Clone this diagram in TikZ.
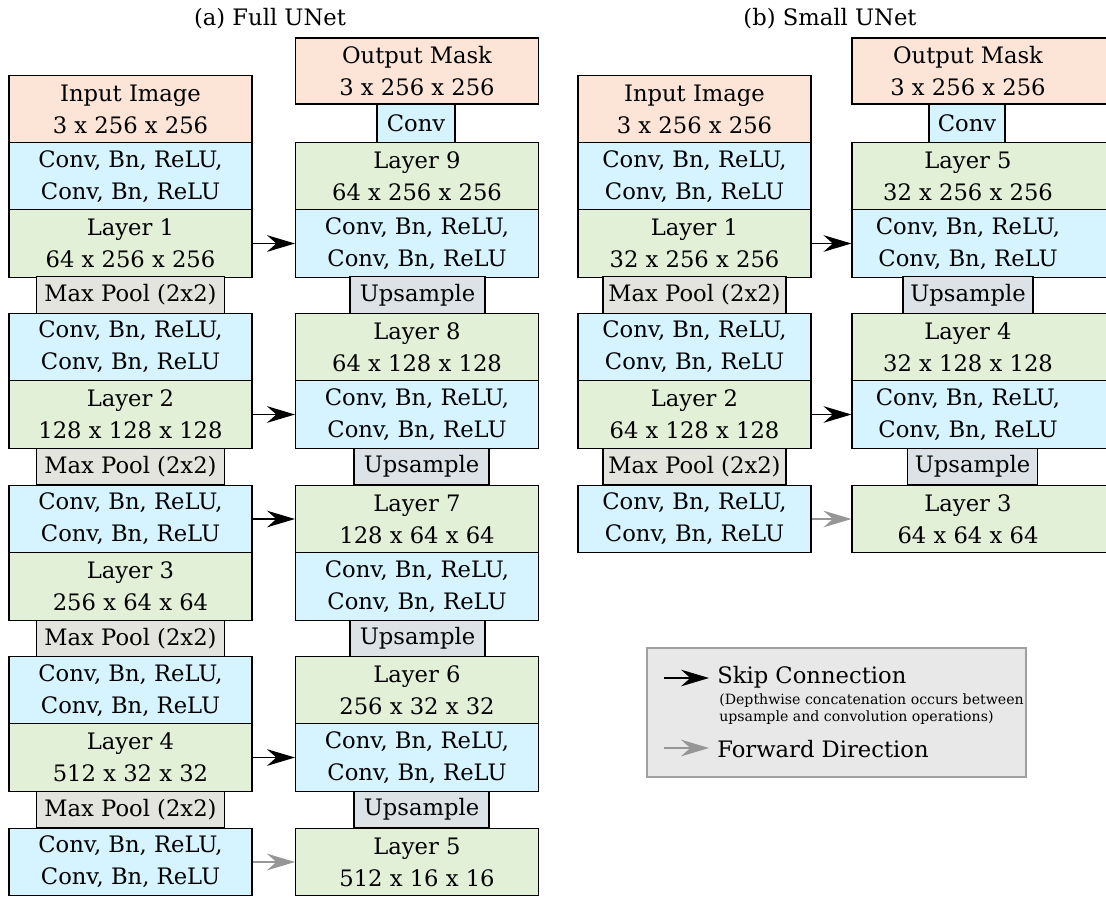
\documentclass[tikz,border=0pt]{standalone}
\usepackage{fontspec}
\setmainfont{DejaVu Serif}
\usepackage{tikz}
\usetikzlibrary{arrows.meta}
\definecolor{peach}{RGB}{252,228,214}
\definecolor{convblue}{RGB}{213,244,255}
\definecolor{layergreen}{RGB}{226,240,216}
\definecolor{poolgray}{RGB}{228,228,222}
\definecolor{upgray}{RGB}{220,226,229}
\definecolor{legendfill}{RGB}{232,232,232}
\definecolor{legendline}{RGB}{160,160,160}
\definecolor{fwdgray}{RGB}{150,150,150}
\newcommand{\boxfont}{\fontsize{17pt}{24pt}\selectfont}
\newcommand{\notefont}{\fontsize{10.6pt}{12.75pt}\selectfont}

\begin{document}
\begin{tikzpicture}[x=0.75pt,y=-0.75pt,
blk/.style={draw,line width=0.8pt,align=center,inner sep=0pt,font=\boxfont},
io/.style={blk,fill=peach,minimum height=50.4pt},
conv/.style={blk,fill=convblue,minimum height=50.4pt},
layer/.style={blk,fill=layergreen,minimum height=50.4pt},
pool/.style={blk,fill=poolgray,minimum height=27.6pt},
upsmp/.style={blk,fill=upgray,minimum height=27.6pt},
fconv/.style={blk,fill=convblue,minimum height=29.25pt},
colA/.style={minimum width=182.25pt},
colB/.style={minimum width=174.75pt},
bcut/.style={minimum width=195pt,execute at begin node={\begin{minipage}{174pt}\centering},execute at end node={\end{minipage}\hspace*{21pt}}},
skip/.style={-{Stealth[length=21pt,width=12.5pt,inset=7pt]},line width=1pt},
fwd/.style={skip,draw=fwdgray,fill=fwdgray},
lgtxt/.style={inner sep=0pt,font=\boxfont}]
\useasboundingbox (0,0) rectangle (1106,897);
\clip (0,0) rectangle (1106,897);

\node[font=\boxfont,anchor=base] (ttlA) at (270,25) {(a) Full UNet};
\node[font=\boxfont,anchor=base] (ttlB) at (830,25) {(b) Small UNet};

% full unet, down path
\node[io,colA] (inA) at (130.5,109.5) {Input Image\\3 x 256 x 256};
\node[conv,colA] (cA1) at (130.5,176.5) {Conv, Bn, ReLU,\\Conv, Bn, ReLU};
\node[layer,colA] (lA1) at (130.5,243.5) {Layer 1\\64 x 256 x 256};
\node[pool,minimum width=141pt] (pA1) at (130.5,295) {Max Pool (2x2)};
\node[conv,colA] (cA2) at (130.5,347) {Conv, Bn, ReLU,\\Conv, Bn, ReLU};
\node[layer,colA] (lA2) at (130.5,414.5) {Layer 2\\128 x 128 x 128};
\node[pool,minimum width=141pt] (pA2) at (130.5,466.5) {Max Pool (2x2)};
\node[conv,colA] (cA3) at (130.5,519) {Conv, Bn, ReLU,\\Conv, Bn, ReLU};
\node[layer,colA] (lA3) at (130.5,586.5) {Layer 3\\256 x 64 x 64};
\node[pool,minimum width=141pt] (pA3) at (130.5,638.5) {Max Pool (2x2)};
\node[conv,colA] (cA4) at (130.5,690.5) {Conv, Bn, ReLU,\\Conv, Bn, ReLU};
\node[layer,colA] (lA4) at (130.5,757.5) {Layer 4\\512 x 32 x 32};
\node[pool,minimum width=141pt] (pA4) at (130.5,809.5) {Max Pool (2x2)};
\node[conv,colA] (cA5) at (130.5,862) {Conv, Bn, ReLU,\\Conv, Bn, ReLU};

% full unet, up path
\node[io,colA,minimum height=49.5pt] (outA) at (417,71) {Output Mask\\3 x 256 x 256};
\node[fconv,minimum width=58.5pt] (fcA) at (416,123.5) {Conv};
\node[layer,colA] (lA9) at (417,176.5) {Layer 9\\64 x 256 x 256};
\node[conv,colA] (dA9) at (417,243.5) {Conv, Bn, ReLU,\\Conv, Bn, ReLU};
\node[upsmp,minimum width=101.25pt] (uA4) at (417.5,295) {Upsample};
\node[layer,colA] (lA8) at (417,347) {Layer 8\\64 x 128 x 128};
\node[conv,colA] (dA8) at (417,414.5) {Conv, Bn, ReLU,\\Conv, Bn, ReLU};
\node[upsmp,minimum width=101.25pt] (uA3) at (421.5,466.5) {Upsample};
\node[layer,colA] (lA7) at (417,519) {Layer 7\\128 x 64 x 64};
\node[conv,colA] (dA7) at (417,586.5) {Conv, Bn, ReLU,\\Conv, Bn, ReLU};
\node[upsmp,minimum width=101.25pt] (uA2) at (417.5,638.5) {Upsample};
\node[layer,colA] (lA6) at (417,690.5) {Layer 6\\256 x 32 x 32};
\node[conv,colA] (dA6) at (417,757.5) {Conv, Bn, ReLU,\\Conv, Bn, ReLU};
\node[upsmp,minimum width=101.25pt] (uA1) at (421.5,809.5) {Upsample};
\node[layer,colA] (lA5) at (417,862) {Layer 5\\512 x 16 x 16};

\draw[skip] (lA1.east) -- (dA9.west);
\draw[skip] (lA2.east) -- (dA8.west);
\draw[skip] (cA3.east) -- (lA7.west);
\draw[skip] (lA4.east) -- (dA6.west);
\draw[fwd] (cA5.east) -- (lA5.west);

% small unet
\node[io,colB] (inB) at (694.5,109.5) {Input Image\\3 x 256 x 256};
\node[conv,colB] (cB1) at (694.5,176.5) {Conv, Bn, ReLU,\\Conv, Bn, ReLU};
\node[layer,colB] (lB1) at (694.5,243.5) {Layer 1\\32 x 256 x 256};
\node[pool,minimum width=137.25pt] (pB1) at (694.5,295) {Max Pool (2x2)};
\node[conv,colB] (cB2) at (694.5,347) {Conv, Bn, ReLU,\\Conv, Bn, ReLU};
\node[layer,colB] (lB2) at (694.5,414.5) {Layer 2\\64 x 128 x 128};
\node[pool,minimum width=137.25pt] (pB2) at (694.5,466.5) {Max Pool (2x2)};
\node[conv,colB] (cB3) at (694.5,519) {Conv, Bn, ReLU,\\Conv, Bn, ReLU};

\node[io,bcut,minimum height=49.5pt] (outB) at (982,71) {Output Mask\\3 x 256 x 256};
\node[fconv,minimum width=57pt] (fcB) at (967,123.5) {Conv};
\node[layer,bcut] (lB5) at (982,176.5) {Layer 5\\32 x 256 x 256};
\node[conv,bcut] (dB5) at (982,243.5) {Conv, Bn, ReLU,\\Conv, Bn, ReLU};
\node[upsmp,minimum width=97.5pt] (uB2) at (968,295) {Upsample};
\node[layer,bcut] (lB4) at (982,347) {Layer 4\\32 x 128 x 128};
\node[conv,bcut] (dB4) at (982,414.5) {Conv, Bn, ReLU,\\Conv, Bn, ReLU};
\node[upsmp,minimum width=97.5pt] (uB1) at (972.5,466.5) {Upsample};
\node[layer,bcut] (lB3) at (982,519) {Layer 3\\64 x 64 x 64};

\draw[skip] (lB1.east) -- (dB5.west);
\draw[skip] (lB2.east) -- (dB4.west);
\draw[fwd] (cB3.east) -- (lB3.west);

% legend
\node[draw=legendline,fill=legendfill,line width=0.8pt,minimum width=284.25pt,minimum height=96.75pt,inner sep=0pt] (legend) at (836.5,712.5) {};
\node[lgtxt,anchor=base west] (skiptxt) at (717,683) {Skip Connection};
\node[inner sep=0pt,font=\notefont,align=left,anchor=north west] (skipnote) at (719,693) {(Depthwise concatenation occurs between\\upsample and convolution operations)};
\node[lgtxt,anchor=base west] (fwdtxt) at (717,757) {Forward Direction};
\coordinate (skipS) at (664,678);
\coordinate (skipE) at (709,678);
\coordinate (fwdS) at (664,748);
\coordinate (fwdE) at (709,748);
\draw[skip] (skipS) -- (skipE);
\draw[fwd] (fwdS) -- (fwdE);
\end{tikzpicture}
\end{document}
